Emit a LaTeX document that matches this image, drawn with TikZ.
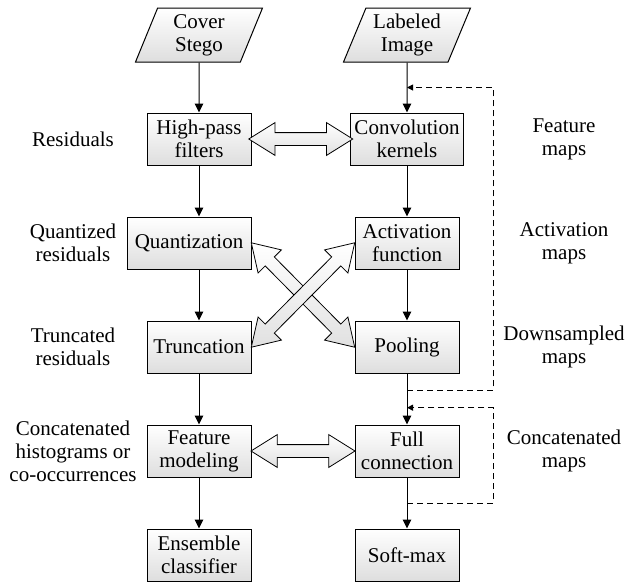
\documentclass[tikz,border=0pt]{standalone}
\usepackage{fontspec}
\setmainfont{Liberation Serif}
\usetikzlibrary{shapes.geometric,shapes.arrows,arrows.meta,calc}
\begin{document}
\begin{tikzpicture}[x=1pt, y=-1pt, font=\fontsize{21}{23}\selectfont,
   box_style/.style={rectangle, draw=black, line width=1pt, top color=white, bottom color=black!13, minimum width=104pt, minimum height=52pt, inner sep=4pt, align=center},
   input_style/.style={trapezium, trapezium left angle=63, trapezium right angle=117, trapezium stretches body, draw=black, line width=1pt, top color=white, bottom color=black!13, minimum width=127pt, minimum height=54pt, inner sep=1pt, align=center},
   edge_style/.style={draw=black, line width=1pt, -{Triangle[length=9pt,width=8.5pt]}},
   loop_style/.style={draw=black, line width=1pt, dash pattern=on 6pt off 4pt, -{Triangle[length=6pt,width=6pt]}},
   fat_style/.style={double arrow, draw=black, line width=0.8pt, top color=white, bottom color=black!12, double arrow head extend=10pt, double arrow tip angle=64, inner xsep=0pt, inner ysep=6pt},
   label_style/.style={align=center}]
	  \useasboundingbox (0,0) rectangle (627,582);

	  % left column
	  \node [input_style] (cover) at (199,35)  {Cover\\Stego};
	  \node [box_style] (hpf)   at (199,139) {High-pass\\filters};
	  \node [box_style, minimum width=124pt] (quant) at (189,243) {Quantization};
	  \node [box_style] (trunc) at (199,347) {Truncation};
	  \node [box_style] (feat)  at (199,451) {Feature\\modeling};
	  \node [box_style] (ens)   at (199,555) {Ensemble\\classifier};

	  % right column
	  \node [input_style] (image) at (407,35)  {Labeled\\Image};
	  \node [box_style] (conv)  at (407,139) {Convolution\\kernels};
	  \node [box_style] (act)   at (407,243) {Activation\\function};
	  \node [box_style] (pool)  at (407,347) {Pooling};
	  \node [box_style] (full)  at (407,451) {Full\\connection};
	  \node [box_style] (soft)  at (407,555) {Soft-max};

	  % side labels
	  \node [label_style] (res)    at (73,139) {Residuals};
	  \node [label_style] (qres)   at (73,243) {Quantized\\residuals};
	  \node [label_style] (tres)   at (73,347) {Truncated\\residuals};
	  \node [label_style] (hist)   at (73,451) {Concatenated\\histograms or\\co-occurrences};
	  \node [label_style] (fmaps)  at (564,139) {Feature\\maps};
	  \node [label_style] (amaps)  at (564,243) {Activation\\maps};
	  \node [label_style] (dmaps)  at (564,347) {Downsampled\\maps};
	  \node [label_style] (cmaps)  at (564,451) {Concatenated\\maps};

	  \foreach \from/\to in {cover/hpf, trunc/feat, feat/ens, image/conv, conv/act, act/pool, pool/full, full/soft}
	    \draw [edge_style] (\from) -- (\to);
	  \draw [edge_style] (hpf.south) -- (hpf.south |- quant.north);
	  \draw [edge_style] (hpf.south |- quant.south) -- (trunc.north);

	  % feedback loops
	  \coordinate (loop1_start) at ($(pool.south)!0.33!(full.north)$);
	  \coordinate (loop1_end)   at ($(image.south)!0.5!(conv.north)$);
	  \coordinate (loop2_start) at ($(full.south)!0.5!(soft.north)$);
	  \coordinate (loop2_end)   at ($(pool.south)!0.67!(full.north)$);
	  \draw [loop_style] (loop1_start) -- ++(86,0) |- (loop1_end);
	  \draw [loop_style] (loop2_start) -- ++(86,0) |- (loop2_end);

	  % correspondences
	  \path (hpf.east) -- (conv.west) node [fat_style, midway, minimum height=104pt] {};
	  \path (feat.east) -- (full.west) node [fat_style, midway, minimum height=104pt] {};
	  \path (quant.east) -- (pool.west) node [fat_style, midway, sloped, minimum height=147pt] {};
	  \path (trunc.east) -- (act.west) node [fat_style, midway, sloped, minimum height=147pt] {};

	\end{tikzpicture}
\end{document}
